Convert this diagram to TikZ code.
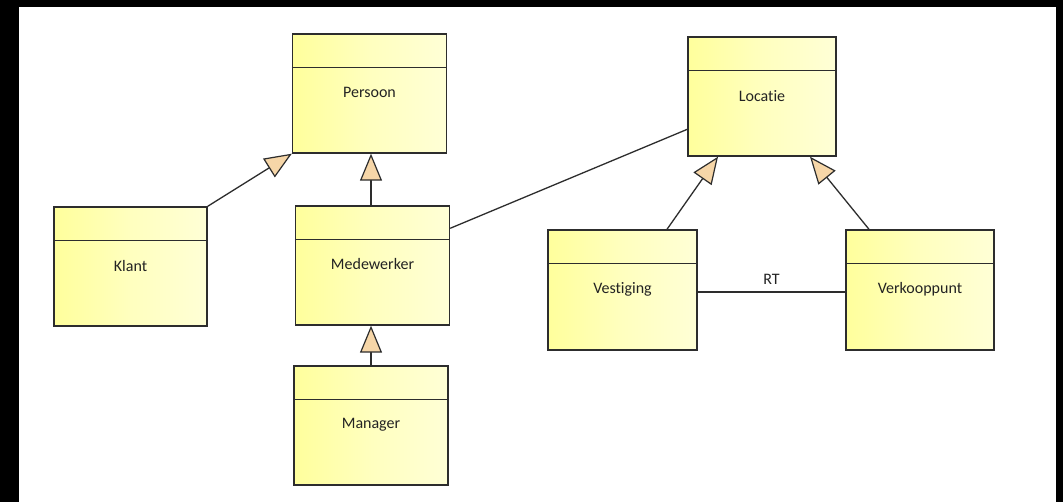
\documentclass[tikz,border=0pt]{standalone}
\usepackage{fontspec}
\setmainfont{Carlito}[Ligatures={NoCommon},RawFeature={-liga;-clig;-dlig}]
\usetikzlibrary{arrows.meta,calc}
\definecolor{boxL}{RGB}{255,255,156}
\definecolor{boxR}{RGB}{255,255,214}
\definecolor{edge}{RGB}{45,45,45}
\definecolor{tipc}{RGB}{246,214,168}
\definecolor{txt}{RGB}{35,35,35}
\tikzset{
  cls/.style={draw=edge, line width=1.4pt, rectangle, inner sep=0pt,
    left color=boxL, right color=boxR, middle color={boxL!40!boxR},
    minimum height=119pt},
  divider/.style={draw=edge, line width=1.4pt},
  lbl/.style={font=\fontsize{16}{19}\selectfont, text=txt, inner sep=0pt},
  conn/.style={draw=edge, line width=1.3pt},
  gen/.style={conn, -{Triangle[length=27pt,width=22pt,fill=tipc,line width=1.2pt]}}
}
\newcommand{\mkdiv}[1]{\draw[divider] ([yshift=-34pt]#1.north west) -- ([yshift=-34pt]#1.north east);}
\begin{document}
\begin{tikzpicture}[x=1pt,y=-1pt]
\useasboundingbox (0,0) rectangle (1063,502);
\fill[black] (0,0) rectangle (1063,502);
\fill[white] (19,7) rectangle (1056,502);

\node[cls, minimum width=154pt] (persoon) at (369.5,93.5) {};
\node[cls, minimum width=153pt] (klant) at (130.5,266.5) {};
\node[cls, minimum width=154pt] (medewerker) at (372.5,265.5) {};
\node[cls, minimum width=154pt] (manager) at (371,425.5) {};
\node[cls, minimum width=148pt] (locatie) at (762,96.5) {};
\node[cls, minimum width=149pt, minimum height=120pt] (vestiging) at (622.5,290) {};
\node[cls, minimum width=148pt, minimum height=120pt] (verkooppunt) at (920,290) {};

\mkdiv{persoon}
\mkdiv{klant}
\mkdiv{medewerker}
\mkdiv{manager}
\mkdiv{locatie}
\mkdiv{vestiging}
\mkdiv{verkooppunt}

\node[lbl] (persoonL) at ([yshift=-59pt]persoon.north) {Persoon};
\node[lbl] (klantL) at ([yshift=-60pt]klant.north) {Klant};
\node[lbl] (medewerkerL) at ([yshift=-59pt]medewerker.north) {Medewerker};
\node[lbl] (managerL) at ([yshift=-59pt]manager.north) {Manager};
\node[lbl] (locatieL) at ([yshift=-60pt]locatie.north) {Locatie};
\node[lbl] (vestigingL) at ([yshift=-60pt]vestiging.north) {Vestiging};
\node[lbl] (verkooppuntL) at ([yshift=-60pt]verkooppunt.north) {Verkooppunt};

\draw[gen] (klant.north east) -- (persoon.south west);
\draw[gen] ([xshift=-1.5pt]medewerker.north) -- ([xshift=-1.5pt]medewerker.north |- persoon.south);
\draw[gen] (manager.north) -- (manager.north |- medewerker.south);
\draw[conn] ([yshift=-23pt]medewerker.north east) -- ([yshift=-93pt]locatie.north west);
\draw[gen] ([xshift=44.5pt]vestiging.north) -- ([xshift=-44pt]locatie.south);
\draw[gen] ([xshift=-51pt]verkooppunt.north) -- ([xshift=48pt]locatie.south);
\draw[conn] ([yshift=-2pt]vestiging.east) -- node[lbl, above=7pt] (rt) {RT} ([yshift=-2pt]verkooppunt.west);
\end{tikzpicture}
\end{document}
